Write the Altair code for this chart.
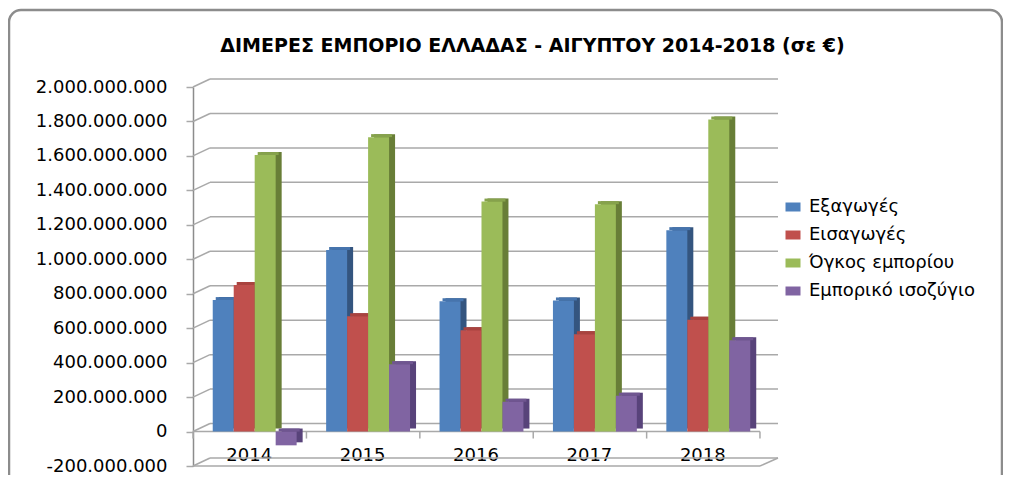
import altair as alt
import pandas as pd

years = ["2014", "2015", "2016", "2017", "2018"]
series = ["Εξαγωγές", "Εισαγωγές", "Όγκος εμπορίου", "Εμπορικό ισοζύγιο"]
exports = [763e6, 1054e6, 757e6, 761e6, 1169e6]
imports = [850e6, 669e6, 588e6, 565e6, 649e6]
volume = [1605e6, 1709e6, 1335e6, 1320e6, 1811e6]
balance = [-80e6, 391e6, 173e6, 208e6, 530e6]
y_ticks = [-200e6, 0, 200e6, 400e6, 600e6, 800e6, 1000e6, 1200e6,
           1400e6, 1600e6, 1800e6, 2000e6]
floor_levels = [0, -200e6]

front_colors = ["#4F81BD", "#C0504D", "#9BBB59", "#8064A2"]
side_colors = ["#34557F", "#8A3532", "#687E37", "#58437A"]
top_colors = ["#4674AD", "#A9433F", "#86A24C", "#6F5690"]
GRID = "#A9A9A9"
FONT = "DejaVu Sans"
GROUP_W = 83.9

rows = []
for i, y in enumerate(years):
    for s, vals in zip(series, [exports, imports, volume, balance]):
        rows.append({"year": y, "series": s, "value": vals[i]})
df = pd.DataFrame(rows)

yscale = alt.Scale(domain=[-200e6, 2000e6], nice=False, zero=False)
xscale = alt.Scale(paddingInner=0.26, paddingOuter=0.13)

x_axis = alt.Axis(orient="bottom", labelAngle=0, domain=False, ticks=False,
                  tickSize=0, labelPadding=-11, labelBaseline="middle",
                  labelOffset=-5.5, labelFont=FONT, labelFontSize=18,
                  labelColor="#000000", title=None)
y_axis = alt.Axis(values=y_ticks, grid=False, offset=5, tickSize=7,
                  tickColor=GRID, tickWidth=1.5, domainColor="#8C8C8C",
                  domainWidth=1.5, labelPadding=19, labelFont=FONT,
                  labelFontSize=18, labelColor="#000000", title=None,
                  labelExpr="replace(replace(format(datum.value, ','), regexp(',', 'g'), '.'), '\u2212', '-')")


def X(field="year:N", **kw):
    return alt.X(field, scale=xscale, axis=x_axis, **kw)


def Y(field):
    return alt.Y(field, scale=yscale, axis=y_axis)


def xoff(shift):
    return alt.XOffset("series:N", sort=series,
                       scale=alt.Scale(paddingInner=0, paddingOuter=0,
                                       range=[shift, shift + GROUP_W]))


base = alt.Chart(df).transform_calculate(
    zero="0", top="max(datum.value, 0)"
)

side = base.mark_bar(yOffset=-3, y2Offset=-3).encode(
    x=X(), xOffset=xoff(6),
    y=Y("value:Q"), y2="zero:Q",
    color=alt.Color("series:N", scale=alt.Scale(domain=series, range=side_colors), legend=None),
)
topf = base.mark_bar(yOffset=-3).encode(
    x=X(), xOffset=xoff(3),
    y=Y("top:Q"), y2="top:Q",
    color=alt.Color("series:N", scale=alt.Scale(domain=series, range=top_colors), legend=None),
)
front = base.mark_bar().encode(
    x=X(), xOffset=xoff(0),
    y=Y("value:Q"), y2="zero:Q",
    color=alt.Color("series:N", scale=alt.Scale(domain=series, range=front_colors),
                    legend=alt.Legend(title=None)),
)

grid_df = pd.DataFrame({"v": y_ticks})
back_grid = alt.Chart(grid_df).mark_rule(color=GRID, strokeWidth=1.5, yOffset=-8, y2Offset=-8).encode(
    x=alt.value(12), x2=alt.value(580), y=Y("v:Q"), y2="v:Q",
)
left_diag = alt.Chart(grid_df).mark_rule(color=GRID, strokeWidth=1.5, y2Offset=-8).encode(
    x=alt.value(-5), x2=alt.value(12), y=Y("v:Q"), y2="v:Q",
)
floor_df = pd.DataFrame({"v": floor_levels})
floor_front = alt.Chart(floor_df).mark_rule(color=GRID, strokeWidth=1.5).encode(
    x=alt.value(-5), x2=alt.value(562), y=Y("v:Q"),
)
right_diag = alt.Chart(floor_df).transform_filter("datum.v < 0").mark_rule(
    color=GRID, strokeWidth=1.5, y2Offset=-8).encode(
    x=alt.value(562), x2=alt.value(580), y=Y("v:Q"), y2="v:Q",
)
year_df = pd.DataFrame({"year": years})
cat_ticks = alt.Chart(year_df).transform_calculate(zero="0").mark_rule(
    color=GRID, strokeWidth=1.5, xOffset=-19.7, y2Offset=7).encode(
    x=X(bandPosition=0), y=Y("zero:Q"), y2="zero:Q",
)
last_tick = alt.Chart(year_df).transform_filter("datum.year == '2018'").transform_calculate(
    zero="0").mark_rule(color=GRID, strokeWidth=1.5, xOffset=9.7, y2Offset=7).encode(
    x=X(bandPosition=1), y=Y("zero:Q"), y2="zero:Q",
)
frame = alt.Chart(pd.DataFrame({"a": [0]})).mark_rect(
    fillOpacity=0, stroke="#8C8C8C", strokeWidth=2.5, cornerRadius=12).encode(
    x=alt.value(-189), x2=alt.value(804), y=alt.value(-77), y2=alt.value(400),
)

chart = alt.layer(
    frame, back_grid, left_diag, floor_front, right_diag, cat_ticks, last_tick,
    side, topf, front,
).resolve_scale(color="independent", xOffset="independent").properties(
    width=567, height=379,
    autosize=alt.AutoSizeParams(type="none"),
    padding={"left": 190, "top": 79, "right": 238, "bottom": 9},
    title=alt.TitleParams(
        "ΔΙΜΕΡΕΣ ΕΜΠΟΡΙΟ ΕΛΛΑΔΑΣ - ΑΙΓΥΠΤΟΥ 2014-2018 (σε €)",
        font=FONT, fontSize=19, fontWeight="bold", color="#000000",
        anchor="middle", dx=51, offset=-47,
    ),
).configure_view(stroke=None).configure_legend(
    orient="none", legendX=586, legendY=111,
    symbolType="M-1,-0.6H1V0.6H-1Z", symbolSize=225, symbolStrokeWidth=0,
    labelFont=FONT, labelFontSize=18, labelColor="#000000", labelOffset=7,
    labelLimit=400, rowPadding=10,
)

chart.save("out.html", embed_options={"renderer": "svg", "actions": False})
